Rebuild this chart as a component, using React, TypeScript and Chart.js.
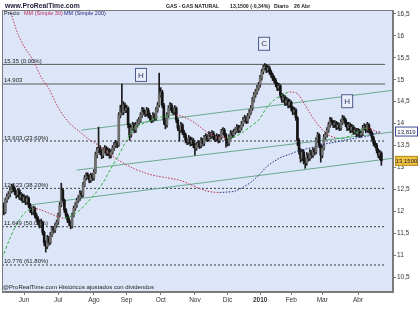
import React, { useEffect, useRef } from 'react';
import { Chart, registerables } from 'chart.js';

Chart.register(...registerables);

// ---------- DATA ----------
const monthTickIdx = [14, 36, 59, 80, 102, 124, 145, 166, 186, 206, 229];
const monthLabels = ['Jun', 'Jul', 'Ago', 'Sep', 'Oct', 'Nov', 'Dic', '2010', 'Feb', 'Mar', 'Abr'];
const yTickValues = [10.5, 11, 11.5, 12, 12.5, 13, 13.5, 14, 14.5, 15, 15.5, 16, 16.5];

const openP = [12.20,12.14,11.98,12.25,12.34,12.39,12.48,12.57,12.50,12.44,12.37,12.48,12.32,12.37,12.25,12.32,12.21,12.30,12.14,12.03,11.98,12.07,11.91,11.84,11.75,11.68,11.75,11.52,11.29,11.20,11.39,11.29,11.45,11.61,11.57,11.68,11.75,11.91,12.14,12.48,12.25,12.03,11.91,11.80,11.75,11.66,11.91,12.07,12.14,12.25,12.30,12.41,12.37,12.60,12.76,12.82,12.80,12.71,12.82,12.76,12.89,13.28,13.39,13.44,13.35,13.28,13.39,13.44,13.33,13.39,13.28,13.35,13.44,13.51,13.55,13.51,14.19,14.35,14.26,14.42,14.31,14.35,13.97,13.74,13.90,13.97,13.85,13.97,14.03,14.08,14.19,14.31,14.26,14.22,14.31,14.19,14.13,14.08,14.19,14.13,14.31,14.42,14.65,14.72,14.42,14.08,13.97,14.19,14.35,14.42,14.31,14.26,14.35,14.08,13.90,13.85,13.97,13.81,13.74,13.62,13.58,13.67,13.55,13.62,13.51,13.44,13.51,13.55,13.49,13.62,13.55,13.67,13.71,13.65,13.76,13.71,13.78,13.69,13.65,13.71,13.62,13.69,13.81,13.85,13.74,13.62,13.55,13.69,13.78,13.74,13.81,13.85,13.92,13.85,13.90,13.99,14.08,14.13,14.06,14.17,14.26,14.35,14.54,14.65,14.72,14.81,14.88,15.04,15.18,15.27,15.31,15.22,15.27,15.18,15.11,15.04,14.99,14.90,14.81,14.86,14.65,14.54,14.61,14.47,14.54,14.42,14.49,14.35,14.26,14.31,14.13,13.62,13.39,13.21,13.35,13.17,13.10,13.28,13.21,13.35,13.28,13.39,13.35,13.62,13.74,13.51,13.28,13.44,13.69,13.74,13.85,13.97,14.08,14.03,13.97,14.01,13.92,13.97,13.90,14.03,14.13,14.08,13.99,13.90,13.97,13.85,13.92,13.81,13.85,13.76,13.83,13.74,13.78,13.90,13.94,13.85,13.97,13.85,13.78,13.67,13.55,13.51,13.39,13.28,13.33];
const highP = [12.30,12.18,12.30,12.40,12.45,12.55,12.62,12.61,12.55,12.48,12.52,12.50,12.43,12.40,12.38,12.35,12.36,12.33,12.18,12.08,12.12,12.10,11.96,11.88,11.80,11.82,11.78,11.55,11.33,11.45,11.43,11.52,11.66,11.66,11.73,11.80,11.96,12.20,12.64,12.52,12.28,12.06,11.95,11.85,11.78,11.96,12.12,12.20,12.30,12.36,12.47,12.46,12.66,12.82,12.88,12.88,12.84,12.87,12.86,12.95,13.35,13.46,13.92,13.50,13.40,13.45,13.50,13.48,13.45,13.43,13.41,13.50,13.57,13.62,13.60,14.25,14.42,14.90,14.50,14.47,14.42,14.38,14.00,13.96,14.03,14.01,14.03,14.09,14.14,14.25,14.37,14.36,14.31,14.37,14.35,14.24,14.18,14.25,14.23,14.37,14.48,15.15,14.82,14.76,14.46,14.12,14.25,14.41,14.48,14.46,14.36,14.41,14.38,14.12,13.95,14.03,14.00,13.85,13.78,13.66,13.73,13.70,13.68,13.66,13.55,13.57,13.61,13.60,13.68,13.66,13.73,13.77,13.75,13.82,13.80,13.84,13.82,13.73,13.77,13.75,13.75,13.87,13.91,13.89,13.78,13.66,13.75,13.84,13.83,13.87,13.91,13.98,13.96,13.96,14.05,14.14,14.19,14.17,14.23,14.32,14.41,14.60,14.71,14.78,14.87,14.94,15.10,15.24,15.33,15.37,15.35,15.33,15.31,15.22,15.15,15.09,15.03,14.94,14.92,14.89,14.69,14.67,14.64,14.60,14.57,14.55,14.52,14.39,14.37,14.34,14.16,13.66,13.43,13.41,13.39,13.22,13.34,13.32,13.41,13.39,13.45,13.44,13.68,13.80,13.77,13.54,13.50,13.75,13.80,13.91,14.03,14.14,14.13,14.07,14.07,14.05,14.03,14.01,14.09,14.19,14.17,14.12,14.03,14.03,14.01,13.98,13.96,13.91,13.89,13.89,13.87,13.84,13.96,14.00,13.98,14.03,14.00,13.89,13.82,13.71,13.60,13.55,13.43,13.39,13.36];
const lowP = [12.05,11.92,11.95,12.20,12.28,12.33,12.42,12.45,12.38,12.30,12.33,12.27,12.25,12.20,12.20,12.15,12.16,12.08,11.97,11.92,11.93,11.85,11.78,11.69,11.62,11.63,11.46,11.22,11.07,11.15,11.22,11.25,11.42,11.50,11.52,11.63,11.70,11.88,12.10,12.20,11.97,11.85,11.74,11.68,11.60,11.62,11.87,12.02,12.09,12.20,12.25,12.31,12.33,12.56,12.71,12.74,12.65,12.66,12.70,12.71,12.86,13.22,13.33,13.29,13.20,13.22,13.33,13.27,13.27,13.21,13.22,13.30,13.39,13.45,13.45,13.48,14.13,14.20,14.20,14.25,14.25,13.90,13.62,13.69,13.85,13.79,13.80,13.92,13.98,14.03,14.14,14.20,14.16,14.17,14.13,14.07,14.02,14.03,14.07,14.08,14.26,14.38,14.60,14.36,13.98,13.88,13.92,14.14,14.30,14.25,14.20,14.21,14.02,13.84,13.60,13.80,13.75,13.68,13.56,13.52,13.53,13.49,13.50,13.45,13.28,13.39,13.46,13.43,13.45,13.49,13.50,13.62,13.59,13.60,13.65,13.66,13.63,13.59,13.60,13.56,13.57,13.64,13.76,13.68,13.46,13.49,13.50,13.64,13.68,13.69,13.76,13.80,13.79,13.80,13.85,13.94,14.03,14.00,14.01,14.12,14.21,14.30,14.49,14.60,14.67,14.76,14.83,14.99,15.13,15.22,15.16,15.17,15.12,15.05,14.98,14.93,14.84,14.75,14.76,14.59,14.48,14.49,14.41,14.42,14.36,14.37,14.29,14.20,14.21,14.07,13.50,13.30,13.12,13.15,13.08,12.98,13.05,13.14,13.16,13.21,13.23,13.28,13.31,13.57,13.45,13.12,13.22,13.40,13.64,13.69,13.80,13.92,13.97,13.91,13.91,13.86,13.87,13.84,13.85,13.98,14.02,13.93,13.84,13.85,13.79,13.80,13.75,13.76,13.70,13.71,13.68,13.69,13.73,13.85,13.79,13.80,13.79,13.72,13.61,13.49,13.45,13.33,13.22,13.18,13.05];
const closeP = [12.14,11.98,12.25,12.34,12.39,12.48,12.57,12.50,12.44,12.37,12.48,12.32,12.37,12.25,12.32,12.21,12.30,12.14,12.03,11.98,12.07,11.91,11.84,11.75,11.68,11.75,11.52,11.29,11.20,11.39,11.29,11.45,11.61,11.57,11.68,11.75,11.91,12.14,12.48,12.25,12.03,11.91,11.80,11.75,11.66,11.91,12.07,12.14,12.25,12.30,12.41,12.37,12.60,12.76,12.82,12.80,12.71,12.82,12.76,12.89,13.28,13.39,13.44,13.35,13.28,13.39,13.44,13.33,13.39,13.28,13.35,13.44,13.51,13.55,13.51,14.19,14.35,14.26,14.42,14.31,14.35,13.97,13.74,13.90,13.97,13.85,13.97,14.03,14.08,14.19,14.31,14.26,14.22,14.31,14.19,14.13,14.08,14.19,14.13,14.31,14.42,14.65,14.72,14.42,14.08,13.97,14.19,14.35,14.42,14.31,14.26,14.35,14.08,13.90,13.85,13.97,13.81,13.74,13.62,13.58,13.67,13.55,13.62,13.51,13.44,13.51,13.55,13.49,13.62,13.55,13.67,13.71,13.65,13.76,13.71,13.78,13.69,13.65,13.71,13.62,13.69,13.81,13.85,13.74,13.62,13.55,13.69,13.78,13.74,13.81,13.85,13.92,13.85,13.90,13.99,14.08,14.13,14.06,14.17,14.26,14.35,14.54,14.65,14.72,14.81,14.88,15.04,15.18,15.27,15.31,15.22,15.27,15.18,15.11,15.04,14.99,14.90,14.81,14.86,14.65,14.54,14.61,14.47,14.54,14.42,14.49,14.35,14.26,14.31,14.13,13.62,13.39,13.21,13.35,13.17,13.10,13.28,13.21,13.35,13.28,13.39,13.35,13.62,13.74,13.51,13.28,13.44,13.69,13.74,13.85,13.97,14.08,14.03,13.97,14.01,13.92,13.97,13.90,14.03,14.13,14.08,13.99,13.90,13.97,13.85,13.92,13.81,13.85,13.76,13.83,13.74,13.78,13.90,13.94,13.85,13.97,13.85,13.78,13.67,13.55,13.51,13.39,13.28,13.33,13.15];

const maIdx = [0,5,10,15,20,25,30,35,40,45,50,55,60,65,70,75,80,85,90,95,100,105,110,115,120,125,130,135,140,145,150,155,160,165,170,175,180,185,190,195,200,205,210,215,220,225,230,235,240,244];
const ma30 = [10.93,11.39,11.75,11.98,12.07,12.03,11.96,11.89,11.84,11.91,12.03,12.21,12.41,12.66,12.98,13.28,13.62,13.90,13.99,14.06,14.13,14.17,14.20,14.17,14.10,13.99,13.85,13.74,13.69,13.67,13.71,13.81,13.94,14.08,14.35,14.54,14.65,14.72,14.68,14.42,14.13,13.90,13.74,13.67,13.67,13.74,13.83,13.90,13.83,13.76];
const ma200 = [17.10,16.59,16.05,15.70,15.44,15.06,14.80,14.43,14.15,13.95,13.81,13.66,13.55,13.42,13.28,13.16,13.06,12.97,12.90,12.84,12.80,12.77,12.74,12.70,12.63,12.55,12.48,12.44,12.43,12.44,12.46,12.55,12.66,12.82,13.01,13.14,13.24,13.30,13.37,13.42,13.46,13.51,13.55,13.58,13.62,13.65,13.69,13.71,13.78,13.82];

const fibLevels = [15.35, 13.603, 12.523, 11.649, 10.776];
const fibLabels = ['15.35 (0.00%)', '13.603 (23.60%)', '12.523 (38.20%)', '11.649 (50.00%)', '10.776 (61.80%)'];
const resistanceLevel = 14.903;
const resistanceLabel = '14.903';
const levelEndIdx = 246.4;

// trend lines: [x0, y0, x1, y1] in (session index, price)
const trendLines = [
  [51, 13.85, 251.5, 14.76],
  [48, 12.94, 251.5, 13.81],
  [17, 12.14, 251.5, 13.21],
];

const marks = [
  { x: 89.3, y: 15.11, t: 'H' },
  { x: 168.5, y: 15.82, t: 'C' },
  { x: 222, y: 14.51, t: 'H' },
];

const headerParts = [
  { text: 'GAS - GAS NATURAL', x: 166 },
  { text: '13,1500 (-0,34%)', x: 230 },
  { text: 'Diario', x: 274 },
  { text: '26 Abr', x: 294 },
];

const lastPrice = 13.15;
const lastPriceLabel = '13,1500';
const ma200Last = 13.819;
const ma200LastLabel = '13,819';

const X_MIN = -0.16;
const X_MAX = 251.5;
const Y_MIN = 10.16;
const Y_MAX = 16.59;

const FONT = '"Liberation Sans", Arial, sans-serif';

export default function App() {
  const ref = useRef<HTMLCanvasElement | null>(null);

  useEffect(() => {
    document.body.style.margin = '0';
    const canvas = ref.current;
    if (!canvas) return;

    const wicks = closeP.map((_, i) => ({ x: i, y: [lowP[i], highP[i]] }));
    const bodies = closeP.map((c, i) => {
      const o = openP[i];
      const lo = Math.min(o, c);
      const hi = Math.max(o, c);
      return { x: i, y: [lo, hi === lo ? hi + 0.01 : hi] };
    });
    const bodyColors = closeP.map((c, i) => (c >= openP[i] ? '#6e6e6e' : '#151515'));

    const ma30Data = maIdx.map((x, k) => ({ x, y: ma30[k] }));
    const ma200Data = maIdx.map((x, k) => ({ x, y: ma200[k] }));

    const levelDatasets: any[] = fibLevels.map((lv, k) => ({
      type: 'line',
      data: [{ x: X_MIN, y: lv }, { x: levelEndIdx, y: lv }],
      borderColor: k === 0 ? '#5a5a5a' : '#3a3a3a',
      borderWidth: 1,
      borderDash: k === 0 ? [] : [2, 2],
      pointRadius: 0,
      order: 5,
    }));
    levelDatasets.push({
      type: 'line',
      data: [{ x: X_MIN, y: resistanceLevel }, { x: levelEndIdx, y: resistanceLevel }],
      borderColor: '#5a5a5a',
      borderWidth: 1,
      pointRadius: 0,
      order: 5,
    });

    const trendDatasets = trendLines.map((t) => ({
      type: 'line',
      data: [{ x: t[0], y: t[1] }, { x: t[2], y: t[3] }],
      borderColor: '#6aa88e',
      borderWidth: 1,
      pointRadius: 0,
      order: 4,
    }));

    const slopeUp = (ctx: any) => ctx.p1.parsed.y >= ctx.p0.parsed.y;

    const bgPlugin = {
      id: 'bg',
      beforeDraw(chart: any) {
        const { ctx, chartArea: a } = chart;
        ctx.save();
        ctx.fillStyle = '#dde6f8';
        ctx.fillRect(a.left, a.top, a.right - a.left, a.bottom - a.top);
        ctx.restore();
      },
    };

    const overlayPlugin = {
      id: 'overlay',
      afterDatasetsDraw(chart: any) {
        const { ctx, chartArea: a, scales } = chart;
        const xs = scales.x;
        const ys = scales.y;
        ctx.save();
        // fib labels
        ctx.font = `6px ${FONT}`;
        ctx.fillStyle = '#222';
        ctx.textBaseline = 'alphabetic';
        ctx.textAlign = 'left';
        fibLevels.forEach((lv, k) => {
          ctx.fillText(fibLabels[k], a.left + 2, ys.getPixelForValue(lv) - 1.5);
        });
        ctx.fillText(resistanceLabel, a.left + 2, ys.getPixelForValue(resistanceLevel) - 1.5);

        // legend
        ctx.font = `5.5px ${FONT}`;
        ctx.fillStyle = '#111';
        ctx.fillText('Precio', a.left + 2, a.top + 5);
        ctx.fillStyle = '#c02a5c';
        ctx.fillText('MM (Simple 30)', a.left + 22, a.top + 5);
        ctx.fillStyle = '#23287a';
        ctx.fillText('MM (Simple 200)', a.left + 62, a.top + 5);

        // bottom note
        ctx.font = `6px ${FONT}`;
        ctx.fillStyle = '#222';
        ctx.fillText('@ProRealTime.com Históricos ajustados con dividendos', a.left + 1, a.bottom - 3);

        // pattern marks
        marks.forEach((m) => {
          const px = xs.getPixelForValue(m.x);
          const py = ys.getPixelForValue(m.y);
          ctx.fillStyle = '#e9eefa';
          ctx.strokeStyle = '#4d5b8c';
          ctx.lineWidth = 1;
          ctx.fillRect(px - 5.5, py - 6.5, 11, 13);
          ctx.strokeRect(px - 5.5, py - 6.5, 11, 13);
          ctx.fillStyle = '#2f3a66';
          ctx.font = `8px ${FONT}`;
          ctx.textAlign = 'center';
          ctx.textBaseline = 'middle';
          ctx.fillText(m.t, px, py + 0.5);
          ctx.textAlign = 'left';
          ctx.textBaseline = 'alphabetic';
        });

        // frame
        ctx.strokeStyle = '#7a7a7a';
        ctx.lineWidth = 1;
        ctx.strokeRect(a.left + 0.5, a.top + 0.5, a.right - a.left - 1, a.bottom - a.top - 1);
        ctx.restore();
      },
      afterDraw(chart: any) {
        const { ctx, chartArea: a, scales } = chart;
        const ys = scales.y;
        ctx.save();
        // header
        ctx.textBaseline = 'alphabetic';
        ctx.textAlign = 'left';
        ctx.fillStyle = '#1c1c3a';
        ctx.font = `bold 6.8px ${FONT}`;
        ctx.fillText('www.ProRealTime.com', 5, 8);
        ctx.font = `bold 5.2px ${FONT}`;
        ctx.fillStyle = '#222';
        headerParts.forEach((p) => ctx.fillText(p.text, p.x, 8));

        // value tags on the right axis
        const tag = (v: number, text: string, fill: string, stroke: string) => {
          const py = ys.getPixelForValue(v);
          ctx.fillStyle = fill;
          ctx.fillRect(a.right + 2.5, py - 4.5, 22, 9);
          ctx.strokeStyle = stroke;
          ctx.lineWidth = 1;
          ctx.strokeRect(a.right + 2.5, py - 4.5, 22, 9);
          ctx.fillStyle = '#1a1a40';
          ctx.font = `6px ${FONT}`;
          ctx.textAlign = 'center';
          ctx.textBaseline = 'middle';
          ctx.fillText(text, a.right + 13.5, py + 0.5);
        };
        tag(ma200Last, ma200LastLabel, '#ffffff', '#3b4a9a');
        tag(lastPrice, lastPriceLabel, '#f0c23c', '#b08a20');
        ctx.restore();
      },
    };

    const chart = new Chart(canvas, {
      type: 'bar',
      data: {
        datasets: [
          {
            type: 'line',
            data: ma30Data,
            borderWidth: 1,
            pointRadius: 0,
            tension: 0.3,
            borderColor: '#2fb33a',
            segment: {
              borderColor: (ctx: any) => (slopeUp(ctx) ? '#2fb33a' : '#c0304e'),
              borderDash: (ctx: any) => (slopeUp(ctx) ? [3, 2] : [1.5, 1.5]),
            },
            order: 1,
          } as any,
          {
            type: 'line',
            data: ma200Data,
            borderWidth: 1,
            pointRadius: 0,
            tension: 0.3,
            borderColor: '#c0304e',
            segment: {
              borderColor: (ctx: any) => (slopeUp(ctx) ? '#22307e' : '#c0304e'),
              borderDash: () => [1.5, 1.5],
            },
            order: 1,
          } as any,
          {
            type: 'bar',
            data: bodies as any,
            backgroundColor: bodyColors,
            borderWidth: 0,
            barThickness: 2,
            grouped: false,
            order: 2,
          } as any,
          {
            type: 'bar',
            data: wicks as any,
            backgroundColor: '#1a1a1a',
            borderWidth: 0,
            barThickness: 1,
            grouped: false,
            order: 3,
          } as any,
          ...trendDatasets,
          ...levelDatasets,
        ] as any,
      },
      options: {
        responsive: false,
        animation: false,
        events: [],
        layout: { padding: { top: 10, left: 2, right: 0, bottom: 0 } },
        plugins: {
          legend: { display: false },
          tooltip: { enabled: false },
          title: { display: false },
        },
        scales: {
          x: {
            type: 'linear',
            min: X_MIN,
            max: X_MAX,
            offset: false,
            afterBuildTicks: (scale: any) => {
              scale.ticks = monthTickIdx.map((v) => ({ value: v }));
            },
            afterFit: (scale: any) => {
              scale.height = 23;
            },
            ticks: {
              autoSkip: false,
              maxRotation: 0,
              padding: 1,
              color: '#333',
              font: (ctx: any) => ({
                family: FONT,
                size: 6.5,
                weight: ctx.tick && ctx.tick.value === 166 ? 'bold' : 'normal',
              }),
              callback: (v: any) => {
                const k = monthTickIdx.indexOf(Number(v));
                return k >= 0 ? monthLabels[k] : '';
              },
            },
            grid: { display: true, drawOnChartArea: false, drawTicks: true, tickLength: 3, color: '#777', offset: false },
            border: { display: true, color: '#7a7a7a' },
          },
          y: {
            type: 'linear',
            position: 'right',
            min: Y_MIN,
            max: Y_MAX,
            afterBuildTicks: (scale: any) => {
              scale.ticks = yTickValues.map((v) => ({ value: v }));
            },
            afterFit: (scale: any) => {
              scale.width = 27;
            },
            ticks: {
              padding: 1,
              color: '#333',
              font: { family: FONT, size: 6.5 },
              callback: (v: any) => String(v).replace('.', ','),
            },
            grid: { display: true, drawOnChartArea: false, drawTicks: true, tickLength: 3, color: '#777' },
            border: { display: true, color: '#7a7a7a' },
          },
        },
      } as any,
      plugins: [bgPlugin, overlayPlugin],
    });

    return () => {
      chart.destroy();
    };
  }, []);

  return (
    <div style={{ width: 420, height: 315, background: '#ffffff' }}>
      <canvas ref={ref} width={420} height={315} style={{ width: 420, height: 315, display: 'block' }} />
    </div>
  );
}
